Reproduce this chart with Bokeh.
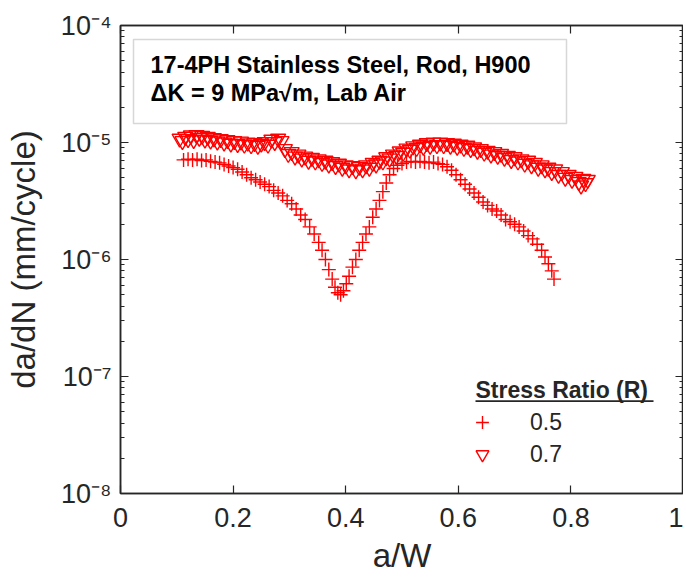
from bokeh.plotting import figure
from bokeh.models import (FixedTicker, LinearAxis, LogAxis, Label, BoxAnnotation,
                          Legend, LegendItem, Range1d)
from bokeh.embed import file_html
from bokeh.resources import INLINE

# ---------------- data ----------------
x_r05 = [0.112, 0.120, 0.128, 0.136, 0.144, 0.152, 0.160, 0.168, 0.176, 0.184,
         0.192, 0.200, 0.208, 0.216, 0.224, 0.232, 0.240, 0.248, 0.256, 0.264,
         0.272, 0.280, 0.288, 0.296, 0.304, 0.312, 0.320, 0.328, 0.336, 0.344,
         0.352, 0.358, 0.364, 0.370, 0.376, 0.381, 0.386, 0.391, 0.396, 0.401,
         0.406, 0.412, 0.418, 0.424, 0.430, 0.436, 0.442, 0.448, 0.454, 0.460,
         0.466, 0.472, 0.478, 0.485, 0.492, 0.500, 0.508, 0.516, 0.524, 0.532,
         0.540, 0.548, 0.556, 0.564, 0.572, 0.580, 0.588, 0.596, 0.604, 0.612,
         0.620, 0.628, 0.636, 0.644, 0.652, 0.660, 0.668, 0.676, 0.684, 0.692,
         0.700, 0.708, 0.716, 0.724, 0.732, 0.740, 0.748, 0.754, 0.760, 0.766,
         0.770]
dadn_r05 = [7.1e-6, 7.2e-6, 7.1e-6, 7.2e-6, 7.0e-6, 7.1e-6, 6.9e-6, 6.8e-6, 6.7e-6, 6.5e-6,
            6.3e-6, 6.1e-6, 5.9e-6, 5.6e-6, 5.3e-6, 5.0e-6, 4.8e-6, 4.6e-6, 4.4e-6, 4.2e-6,
            3.9e-6, 3.7e-6, 3.5e-6, 3.2e-6, 3.0e-6, 2.7e-6, 2.4e-6, 2.2e-6, 1.9e-6, 1.65e-6,
            1.4e-6, 1.2e-6, 1.0e-6, 8.2e-7, 6.8e-7, 5.8e-7, 5.2e-7, 5.0e-7, 5.4e-7, 6.2e-7,
            7.2e-7, 8.6e-7, 1.0e-6, 1.2e-6, 1.4e-6, 1.65e-6, 1.9e-6, 2.3e-6, 2.7e-6, 3.2e-6,
            3.8e-6, 4.5e-6, 5.3e-6, 6.0e-6, 6.4e-6, 6.6e-6, 6.8e-6, 6.9e-6, 6.8e-6, 6.9e-6,
            6.8e-6, 6.7e-6, 6.8e-6, 6.6e-6, 6.5e-6, 6.2e-6, 5.8e-6, 5.3e-6, 4.8e-6, 4.4e-6,
            4.0e-6, 3.7e-6, 3.4e-6, 3.1e-6, 2.9e-6, 2.7e-6, 2.6e-6, 2.4e-6, 2.2e-6, 2.1e-6,
            2.0e-6, 1.9e-6, 1.75e-6, 1.6e-6, 1.5e-6, 1.35e-6, 1.2e-6, 1.05e-6, 9.2e-7, 8.0e-7,
            6.8e-7]

x_r07 = [0.105, 0.110, 0.115, 0.120, 0.125, 0.130, 0.135, 0.140, 0.145, 0.150,
         0.155, 0.160, 0.166, 0.172, 0.178, 0.184, 0.190, 0.196, 0.202, 0.208,
         0.214, 0.220, 0.226, 0.232, 0.238, 0.244, 0.250, 0.256, 0.262, 0.268,
         0.274, 0.280, 0.286, 0.292, 0.298, 0.304, 0.310, 0.316, 0.322, 0.328,
         0.334, 0.340, 0.346, 0.352, 0.358, 0.364, 0.370, 0.376, 0.382, 0.388,
         0.394, 0.400, 0.406, 0.412, 0.418, 0.424, 0.430, 0.436, 0.442, 0.448,
         0.454, 0.460, 0.466, 0.472, 0.478, 0.484, 0.490, 0.496, 0.502, 0.508,
         0.514, 0.520, 0.526, 0.532, 0.538, 0.544, 0.550, 0.556, 0.562, 0.568,
         0.574, 0.580, 0.586, 0.592, 0.598, 0.604, 0.610, 0.616, 0.622, 0.628,
         0.634, 0.640, 0.646, 0.652, 0.658, 0.664, 0.670, 0.676, 0.682, 0.688,
         0.694, 0.700, 0.706, 0.712, 0.718, 0.724, 0.730, 0.736, 0.742, 0.748,
         0.754, 0.760, 0.766, 0.772, 0.778, 0.784, 0.790, 0.796, 0.802, 0.808,
         0.814, 0.818, 0.822, 0.826, 0.830]
dadn_r07 = [1.08e-5, 1.03e-5, 1.12e-5, 1.07e-5, 1.15e-5, 1.05e-5, 1.16e-5, 1.10e-5, 1.14e-5, 1.06e-5,
            1.12e-5, 1.04e-5, 1.09e-5, 1.02e-5, 1.07e-5, 1.00e-5, 1.05e-5, 0.98e-5, 1.03e-5, 0.97e-5,
            1.02e-5, 0.96e-5, 1.00e-5, 0.95e-5, 0.99e-5, 0.94e-5, 0.98e-5, 1.01e-5, 0.96e-5, 1.06e-5,
            1.01e-5, 1.08e-5, 1.03e-5, 0.88e-5, 8.0e-6, 8.3e-6, 7.6e-6, 7.9e-6, 7.3e-6, 7.6e-6,
            7.0e-6, 7.4e-6, 6.9e-6, 7.2e-6, 6.7e-6, 7.0e-6, 6.5e-6, 6.8e-6, 6.3e-6, 6.6e-6,
            6.1e-6, 6.4e-6, 5.9e-6, 6.3e-6, 5.8e-6, 6.2e-6, 5.9e-6, 6.4e-6, 6.1e-6, 6.7e-6,
            6.5e-6, 7.0e-6, 6.9e-6, 7.5e-6, 7.3e-6, 7.9e-6, 7.7e-6, 8.4e-6, 8.2e-6, 8.9e-6,
            8.7e-6, 9.3e-6, 9.0e-6, 9.6e-6, 9.2e-6, 9.9e-6, 9.4e-6, 1.00e-5, 9.5e-6, 1.00e-5,
            9.5e-6, 9.9e-6, 9.4e-6, 9.8e-6, 9.2e-6, 9.6e-6, 9.0e-6, 9.4e-6, 8.8e-6, 9.1e-6,
            8.5e-6, 8.8e-6, 8.2e-6, 8.5e-6, 7.9e-6, 8.3e-6, 7.7e-6, 8.0e-6, 7.4e-6, 7.7e-6,
            7.1e-6, 7.5e-6, 6.9e-6, 7.2e-6, 6.6e-6, 7.0e-6, 6.4e-6, 6.7e-6, 6.1e-6, 6.4e-6,
            5.9e-6, 6.1e-6, 5.6e-6, 5.9e-6, 5.3e-6, 5.6e-6, 5.0e-6, 5.3e-6, 4.8e-6, 5.1e-6,
            4.6e-6, 4.3e-6, 4.9e-6, 4.5e-6, 4.8e-6]

series_labels = ["0.5", "0.7"]
legend_title = "Stress Ratio (R)"
x_ticks = [0, 0.2, 0.4, 0.6, 0.8, 1.0]
x_tick_labels = ["0", "0.2", "0.4", "0.6", "0.8", "1"]
y_ticks = [1e-8, 1e-7, 1e-6, 1e-5, 1e-4]
y_tick_labels = ["10⁻⁸", "10⁻⁷", "10⁻⁶", "10⁻⁵", "10⁻⁴"]
box_lines = ["17-4PH Stainless Steel, Rod, H900", "ΔK = 9 MPa√m, Lab Air"]

# ---------------- styling ----------------
FONT = "Liberation Sans"
AX = "#262626"
RED = "#FF0000"

y_minor = [m * d for d in [1e-8, 1e-7, 1e-6, 1e-5] for m in range(2, 10)]

p = figure(frame_width=563, frame_height=468, x_range=Range1d(0, 1), y_range=Range1d(1e-8, 1e-4),
           y_axis_type="log", output_backend="svg", toolbar_location=None,
           min_border_left=120, min_border_right=0, min_border_top=25, min_border_bottom=86)
p.xgrid.visible = False
p.ygrid.visible = False
p.outline_line_color = AX
p.outline_line_width = 1.5
p.background_fill_color = "white"
p.border_fill_color = "white"

def style_axis(ax, labels=True):
    ax.axis_line_color = AX
    ax.axis_line_width = 1.5
    ax.major_tick_line_color = AX
    ax.minor_tick_line_color = AX
    ax.major_tick_line_width = 1.2
    ax.minor_tick_line_width = 1.0
    ax.major_tick_in = 8
    ax.major_tick_out = 0
    ax.minor_tick_in = 4
    ax.minor_tick_out = 0
    ax.major_label_text_font = FONT
    ax.major_label_text_color = AX
    ax.axis_label_text_font = FONT
    ax.axis_label_text_color = AX
    ax.axis_label_text_font_style = "normal"
    ax.axis_label_text_font_size = "33px"
    if labels:
        ax.major_label_text_font_size = "27px"
    else:
        ax.major_label_text_font_size = "1px"
        ax.major_label_text_alpha = 0
        ax.major_label_standoff = 0

xb = p.xaxis[0]
xb.ticker = FixedTicker(ticks=x_ticks, minor_ticks=[])
xb.major_label_overrides = dict(zip(x_ticks, x_tick_labels))
xb.axis_label = "a/W"
style_axis(xb)
xb.major_label_standoff = 14
xb.axis_label_standoff = 7

yl = p.yaxis[0]
yl.ticker = FixedTicker(ticks=y_ticks, minor_ticks=y_minor)
yl.major_label_overrides = dict(zip(y_ticks, y_tick_labels))
yl.axis_label = "da/dN (mm/cycle)"
style_axis(yl)
yl.major_label_standoff = 9
yl.axis_label_standoff = 16

xt = LinearAxis(ticker=FixedTicker(ticks=x_ticks, minor_ticks=[]))
style_axis(xt, labels=False)
p.add_layout(xt, "above")
yr = LogAxis(ticker=FixedTicker(ticks=y_ticks, minor_ticks=y_minor))
style_axis(yr, labels=False)
p.add_layout(yr, "right")

r05 = p.scatter(x_r05, dadn_r05, marker="cross", size=14, line_color=RED, line_width=1.4)
r07 = p.scatter(x_r07, dadn_r07, marker="inverted_triangle", size=15, line_color=RED,
                fill_color=None, line_width=1.4)

# info box
p.add_layout(BoxAnnotation(left=13, right=446, bottom=370, top=454,
                           left_units="screen", right_units="screen",
                           top_units="screen", bottom_units="screen",
                           fill_color="white", fill_alpha=1.0,
                           line_color="#7a7a7a", line_width=1.5))
for txt, yy in zip(box_lines, [429, 401]):
    p.add_layout(Label(x=30, y=yy, x_units="screen", y_units="screen", text=txt,
                       text_font=FONT, text_font_style="bold", text_font_size="23.5px",
                       text_color="black", text_baseline="alphabetic"))

# legend
p.add_layout(Label(x=355, y=104, x_units="screen", y_units="screen", text=legend_title,
                   text_font=FONT, text_font_style="bold", text_font_size="23px",
                   text_color=AX, text_baseline="alphabetic"))
p.add_layout(BoxAnnotation(left=355, right=533, bottom=91.5, top=93.2,
                           left_units="screen", right_units="screen",
                           top_units="screen", bottom_units="screen",
                           fill_color=AX, fill_alpha=1.0, line_color=None))
legend = Legend(items=[LegendItem(label=series_labels[0], renderers=[r05]),
                       LegendItem(label=series_labels[1], renderers=[r07])],
                location=(346, 23), glyph_width=32, glyph_height=32, spacing=-2,
                label_standoff=32, padding=0, margin=0, border_line_color=None,
                background_fill_alpha=0, label_text_font=FONT, label_text_font_size="23px",
                label_text_color=AX)
p.add_layout(legend)

open("out.html", "w").write(file_html(p, INLINE))
